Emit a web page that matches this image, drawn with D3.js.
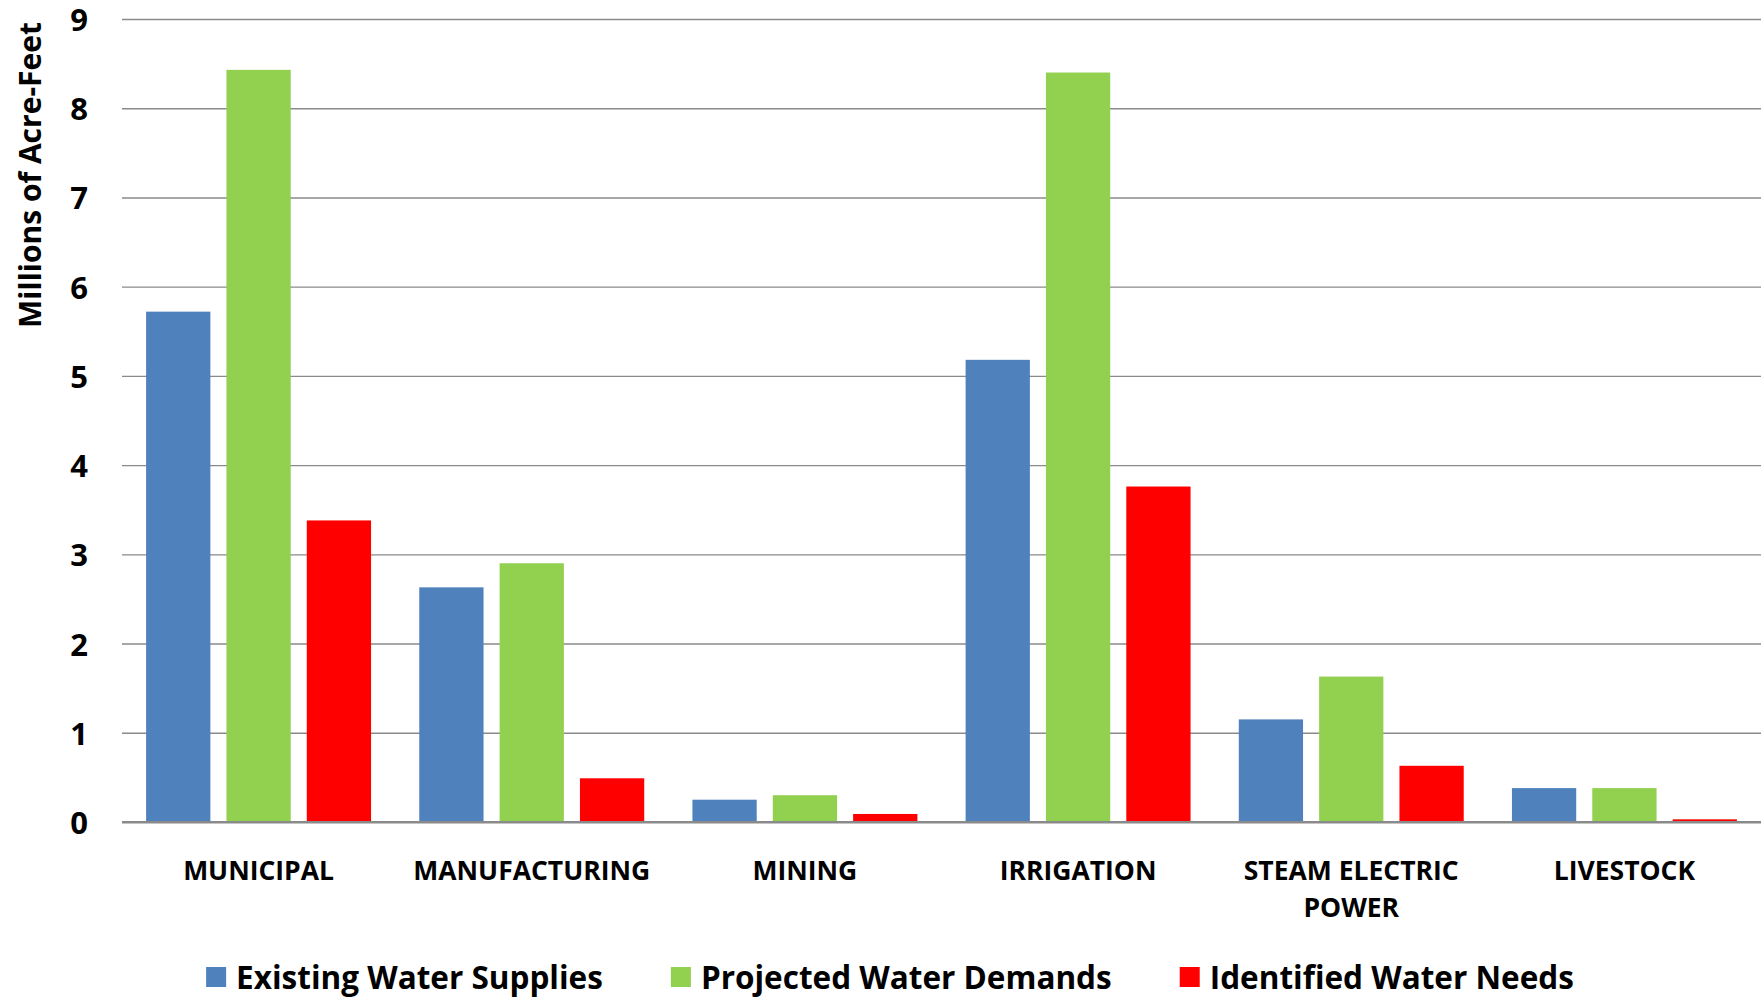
<!DOCTYPE html>
<html>
<head>
<meta charset="utf-8">
<script src="https://cdn.jsdelivr.net/npm/d3@7"></script>
<style>
  html, body { margin: 0; padding: 0; background: #ffffff; }
  svg { display: block; }
  text { font-family: "Open Sans", "Noto Sans", sans-serif; font-weight: 700; fill: #000; }
</style>
</head>
<body>
<svg id="chart" width="1763" height="997"></svg>
<script>
// Water use categories and the three series (millions of acre-feet)
const categories = ["MUNICIPAL", "MANUFACTURING", "MINING", "IRRIGATION", "STEAM ELECTRIC POWER", "LIVESTOCK"];
const categoryLines = [["MUNICIPAL"], ["MANUFACTURING"], ["MINING"], ["IRRIGATION"], ["STEAM ELECTRIC", "POWER"], ["LIVESTOCK"]];
const seriesNames = ["Existing Water Supplies", "Projected Water Demands", "Identified Water Needs"];
const existingSupplies = [5.72, 2.63, 0.25, 5.18, 1.15, 0.38];
const projectedDemands = [8.43, 2.90, 0.30, 8.40, 1.63, 0.38];
const identifiedNeeds  = [3.38, 0.49, 0.09, 3.76, 0.63, 0.03];
const yTicks = [0, 1, 2, 3, 4, 5, 6, 7, 8, 9];
const seriesColors = ["#4F81BD", "#92D050", "#FF0000"];

const seriesValues = [existingSupplies, projectedDemands, identifiedNeeds];
const rows = categories.map((c, i) => ({
  category: c,
  lines: categoryLines[i],
  values: seriesNames.map((s, j) => ({ series: s, value: seriesValues[j][i] }))
}));

const svg = d3.select("#chart");
const plot = { left: 122, right: 1761, top: 19, bottom: 822 };

const x0 = d3.scaleBand().domain(categories).range([plot.left, plot.right]).padding(0);
const x1 = d3.scaleBand().domain(seriesNames).range([0, x0.bandwidth()])
  .paddingInner(0.2).paddingOuter(0.3);
const y = d3.scaleLinear().domain([0, 9]).range([plot.bottom, plot.top]);
const color = d3.scaleOrdinal().domain(seriesNames).range(seriesColors);

// Horizontal gridlines with the value labels on the left
const yAxis = d3.axisLeft(y).tickValues(yTicks).tickFormat(d3.format("d"))
  .tickSize(-(plot.right - plot.left)).tickPadding(34);
const gy = svg.append("g").attr("transform", `translate(${plot.left},0)`).call(yAxis);
gy.select(".domain").remove();
gy.selectAll(".tick line")
  .attr("stroke", "#8a8a8a")
  .attr("stroke-width", d => d === 0 ? 2.2 : 1.4);
gy.selectAll(".tick text")
  .attr("font-size", 31)
  .attr("font-family", "'Open Sans', sans-serif")
  .attr("font-weight", 700)
  .attr("fill", "#000")
  .attr("dy", "0.37em");

// Grouped bars
const groups = svg.append("g").selectAll("g")
  .data(rows)
  .join("g")
  .attr("transform", d => `translate(${x0(d.category)},0)`);

groups.selectAll("rect")
  .data(d => d.values)
  .join("rect")
  .attr("x", d => x1(d.series))
  .attr("width", x1.bandwidth())
  .attr("y", d => y(d.value))
  .attr("height", d => y(0) - y(d.value))
  .attr("fill", d => color(d.series));

// Redraw the zero line above the bars
svg.append("line")
  .attr("x1", plot.left).attr("x2", plot.right)
  .attr("y1", y(0)).attr("y2", y(0))
  .attr("stroke", "#8a8a8a").attr("stroke-width", 2.2);

// Category labels under each group
const catLabels = svg.append("g").selectAll("text")
  .data(rows)
  .join("text")
  .attr("x", d => x0(d.category) + x0.bandwidth() / 2)
  .attr("y", 880)
  .attr("text-anchor", "middle")
  .attr("font-size", 26.5);
catLabels.selectAll("tspan")
  .data(d => d.lines)
  .join("tspan")
  .attr("x", function () { return d3.select(this.parentNode).attr("x"); })
  .attr("dy", (d, i) => i === 0 ? 0 : 37)
  .text(d => d);

// Vertical axis title
svg.append("text")
  .attr("transform", "translate(41,175) rotate(-90)")
  .attr("text-anchor", "middle")
  .attr("font-size", 30)
  .text("Millions of Acre-Feet");

// Legend along the bottom
const legend = svg.append("g");
const swatch = 20, swatchGap = 10, itemGap = 68;
const items = legend.selectAll("g")
  .data(seriesNames)
  .join("g");
items.append("rect")
  .attr("width", swatch).attr("height", swatch)
  .attr("y", 967)
  .attr("fill", d => color(d));
items.append("text")
  .attr("x", swatch + swatchGap)
  .attr("y", 989)
  .attr("font-size", 31.5)
  .text(d => d);
let widths = [];
items.each(function () { widths.push(this.getBBox().width); });
const total = d3.sum(widths) + itemGap * (widths.length - 1);
let cursor = 890 - total / 2;
items.attr("transform", (d, i) => {
  const t = `translate(${cursor},0)`;
  cursor += widths[i] + itemGap;
  return t;
});
</script>
</body>
</html>
